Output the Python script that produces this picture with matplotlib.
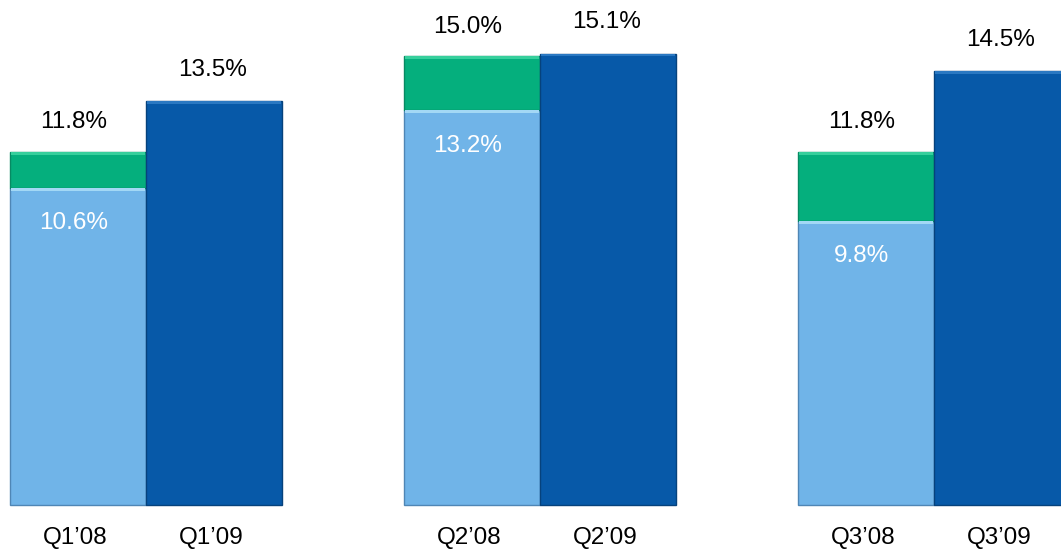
import matplotlib
matplotlib.use('Agg')
import matplotlib.pyplot as plt
import numpy as np

plt.rcParams['font.family'] = ['Liberation Sans', 'DejaVu Sans']

quarters = ['Q1', 'Q2', 'Q3']
labels_08 = ['Q1\u201908', 'Q2\u201908', 'Q3\u201908']
labels_09 = ['Q1\u201909', 'Q2\u201909', 'Q3\u201909']
base_08 = [10.6, 13.2, 9.5]          # light blue part (height as drawn)
base_08_text = ['10.6%', '13.2%', '9.8%']
total_08 = [11.8, 15.0, 11.8]
total_09 = [13.5, 15.1, 14.5]

c_light = '#70B4E8'
c_green = '#05AF7D'
c_dark = '#0759A8'

fig = plt.figure(figsize=(10.61, 5.56), dpi=100)
ax = fig.add_axes([0, 0, 1, 1])

group = np.arange(len(quarters)) * 2.897
x08 = group
x09 = group + 1.0
top_part = [t - b for t, b in zip(total_08, base_08)]

ax.bar(x08, base_08, width=1.0, color=c_light, edgecolor='#4F86B5', linewidth=1)
ax.bar(x08, top_part, bottom=base_08, width=1.0, color=c_green, edgecolor='#078A63', linewidth=1)
ax.bar(x09, total_09, width=1.0, color=c_dark, edgecolor='#06427C', linewidth=1)

# highlight strip on top of each segment (bevel look)
hl = 0.1
ax.bar(x08, [hl]*3, bottom=[b - hl for b in base_08], width=0.98, color='#A3D8F5', linewidth=0)
ax.bar(x08, [hl]*3, bottom=[t - hl for t in total_08], width=0.98, color='#36CF9C', linewidth=0)
ax.bar(x09, [hl]*3, bottom=[t - hl for t in total_09], width=0.98, color='#2A78C2', linewidth=0)

for x, t in zip(x08, total_08):
    ax.annotate('%.1f%%' % t, (x, t), xytext=(-3, 21.5), textcoords='offset points',
                ha='center', va='center', fontsize=17.5, color='black')
for x, t in zip(x09, total_09):
    ax.annotate('%.1f%%' % t, (x, t), xytext=(-1, 22.5), textcoords='offset points',
                ha='center', va='center', fontsize=17.5, color='black')
for x, b, s in zip(x08, base_08, base_08_text):
    ax.annotate(s, (x, b), xytext=(-3, -25.5), textcoords='offset points',
                ha='center', va='center', fontsize=17.5, color='white')

for x, s in zip(list(x08) + list(x09), labels_08 + labels_09):
    ax.text(x - 0.02, -1.1, s, ha='center', va='center', fontsize=17.5, color='black')

ax.set_xlim(-0.574, -0.574 + 1061 / 136)
ax.set_ylim(-51 / 29.9, 505 / 29.9)
ax.axis('off')

plt.savefig('out.png', dpi=100)
